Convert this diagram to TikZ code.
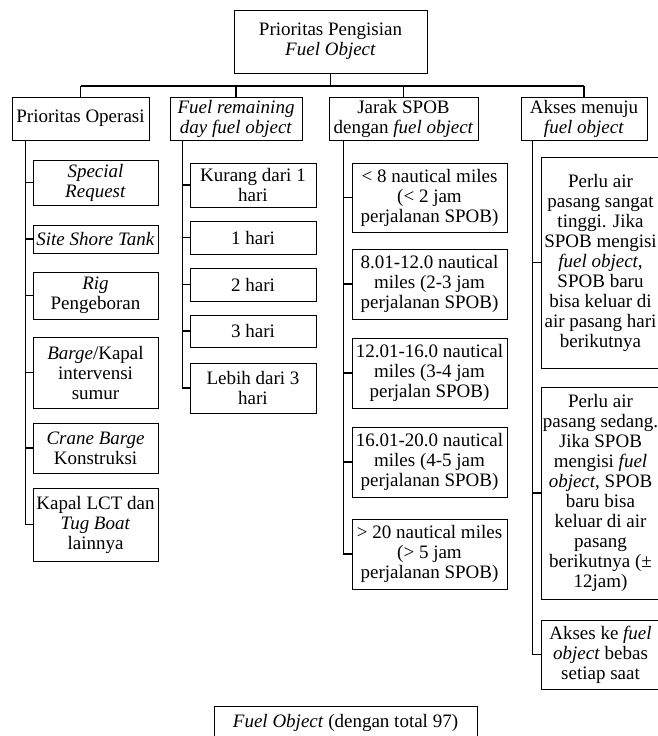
\documentclass[tikz,border=0pt]{standalone}
\usepackage{fontspec}
\setmainfont{Liberation Serif}
\begin{document}
\begin{tikzpicture}[x=1pt, y=-1pt,
      box/.style={draw, line width=1pt, align=center, inner sep=0pt,
                  font=\fontsize{19}{20}\selectfont},
      conn/.style={line width=1.3pt}]
      \useasboundingbox (0,0) rectangle (658,736);
      % top
      \node[box, minimum width=193, minimum height=63] (title) at (330.5,41.5) {Prioritas Pengisian\\\textit{Fuel Object}};
      \node[box, minimum width=137, minimum height=43] (ops) at (80.5,118.5) {Prioritas Operasi};
      \node[box, minimum width=132, minimum height=43] (remain) at (236,118.5) {\textit{Fuel remaining}\\\textit{day fuel object}};
      \node[box, minimum width=149, minimum height=43] (jarak) at (403.5,118.5) {Jarak SPOB\\dengan \textit{fuel object}};
      \node[box, minimum width=126, minimum height=43] (akses) at (584,118.5) {Akses menuju\\\textit{fuel object}};
      \coordinate (bus) at (0,86);
      \draw[conn] (title.south) -- (title.south |- bus);
      \draw[conn] (bus -| ops.north) -- (bus -| akses.north);
      \foreach \n in {ops,remain,jarak,akses}
            \draw[conn] (bus -| \n.north) -- (\n.north);
      % prioritas operasi
      \node[box, minimum width=125, minimum height=45] (sr) at (95.5,182.5) {\textit{Special}\\\textit{Request}};
      \node[box, minimum width=125, minimum height=28] (sst) at (95.5,239) {\textit{Site Shore Tank}};
      \node[box, minimum width=125, minimum height=47] (rig) at (95.5,295.5) {\textit{Rig}\\Pengeboran};
      \node[box, minimum width=125, minimum height=71] (barge) at (95.5,372.5) {\textit{Barge}/Kapal\\intervensi\\sumur};
      \node[box, minimum width=125, minimum height=50] (crane) at (95.5,448) {\textit{Crane Barge}\\Konstruksi};
      \node[box, minimum width=125, minimum height=73] (lct) at (95.5,524.5) {Kapal LCT dan\\\textit{Tug Boat}\\lainnya};
      \foreach \c in {sr,sst,rig,barge,crane,lct}
            \draw[conn] ([xshift=14]ops.south west) |- (\c.west);
      % fuel remaining
      \node[box, minimum width=126, minimum height=44] (d1) at (253,185) {Kurang dari 1\\hari};
      \node[box, minimum width=126, minimum height=33] (d2) at (253,237.5) {1 hari};
      \node[box, minimum width=126, minimum height=33] (d3) at (253,284.5) {2 hari};
      \node[box, minimum width=126, minimum height=32] (d4) at (253,331) {3 hari};
      \node[box, minimum width=126, minimum height=50] (d5) at (253,388) {Lebih dari 3\\hari};
      \foreach \c in {d1,d2,d3,d4,d5}
            \draw[conn] ([xshift=13]remain.south west) |- (\c.west);
      % jarak
      \node[box, minimum width=155, minimum height=69] (nm1) at (429.5,197.5) {< 8 nautical miles\\(< 2 jam\\perjalanan SPOB)};
      \node[box, minimum width=155, minimum height=70] (nm2) at (429.5,284) {8.01-12.0 nautical\\miles (2-3 jam\\perjalanan SPOB)};
      \node[box, minimum width=155, minimum height=70] (nm3) at (429.5,373) {12.01-16.0 nautical\\miles (3-4 jam\\perjalan SPOB)};
      \node[box, minimum width=155, minimum height=70] (nm4) at (429.5,462) {16.01-20.0 nautical\\miles (4-5 jam\\perjalanan SPOB)};
      \node[box, minimum width=155, minimum height=70] (nm5) at (429.5,554) {> 20 nautical miles\\(> 5 jam\\perjalanan SPOB)};
      \foreach \c in {nm1,nm2,nm3,nm4,nm5}
            \draw[conn] ([xshift=15]jarak.south west) |- (\c.west);
      % akses
      \node[box, minimum width=119, minimum height=211] (tide1) at (600.5,262.5) {Perlu air\\pasang sangat\\tinggi. Jika\\SPOB mengisi\\\textit{fuel object},\\SPOB baru\\bisa keluar di\\air pasang hari\\berikutnya};
      \node[box, minimum width=119, minimum height=212] (tide2) at (600.5,493) {Perlu air\\pasang sedang.\\Jika SPOB\\mengisi \textit{fuel}\\\textit{object}, SPOB\\baru bisa\\keluar di air\\pasang\\berikutnya (±\\12jam)};
      \node[box, minimum width=119, minimum height=69] (free) at (600.5,654.5) {Akses ke \textit{fuel}\\\textit{object} bebas\\setiap saat};
      \foreach \c in {tide1,tide2,free}
            \draw[conn] ([xshift=12]akses.south west) |- (\c.west);
      % bottom
      \node[box, minimum width=263, minimum height=34] (total) at (345.5,723) {\textit{Fuel Object} (dengan total 97)};
\end{tikzpicture}
\end{document}
